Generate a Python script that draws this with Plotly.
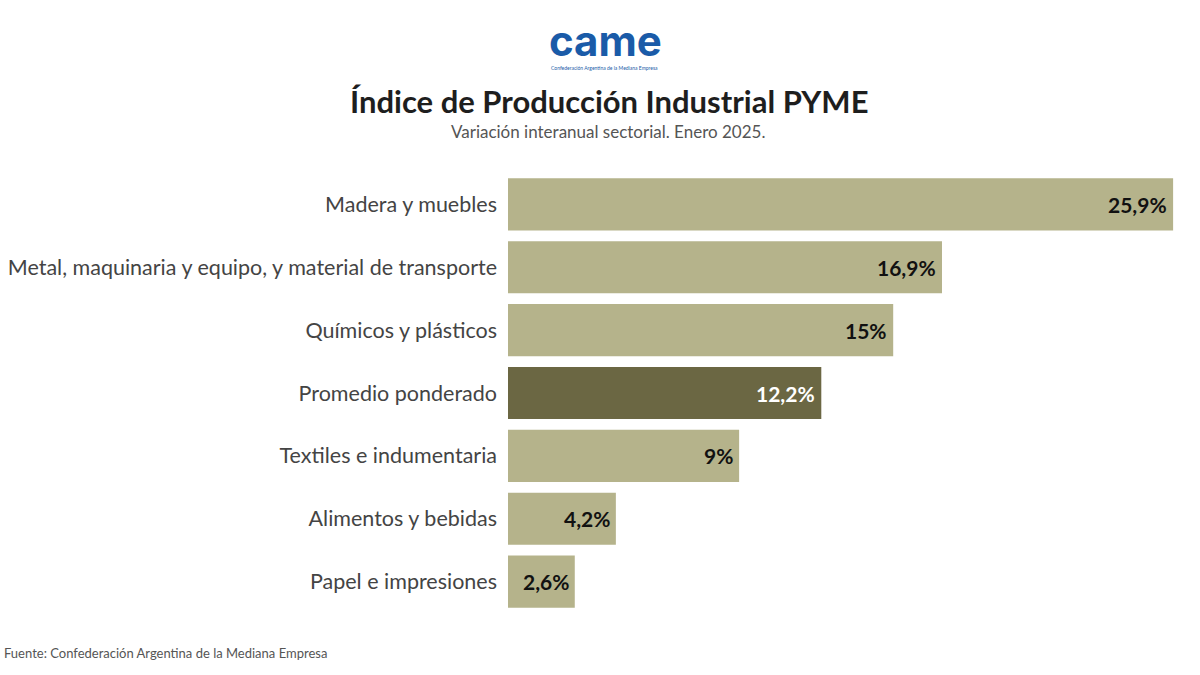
import plotly.graph_objects as go

categories = [
    "Madera y muebles",
    "Metal, maquinaria y equipo, y material de transporte",
    "Químicos y plásticos",
    "Promedio ponderado",
    "Textiles e indumentaria",
    "Alimentos y bebidas",
    "Papel e impresiones",
]
values = [25.9, 16.9, 15.0, 12.2, 9.0, 4.2, 2.6]
highlight = "Promedio ponderado"

LIGHT = "#b5b38b"
DARK = "#6b6743"
FONT = "Lato"

labels = [f"{v:g}".replace(".", ",") + "%" for v in values]
colors = [DARK if c == highlight else LIGHT for c in categories]
label_colors = ["white" if c == highlight else "#111111" for c in categories]

fig = go.Figure()
fig.add_trace(go.Bar(
    x=values, y=categories, orientation="h",
    marker=dict(color=colors, line=dict(width=0)),
    hoverinfo="skip",
))

for c, v, t, lc in zip(categories, values, labels, label_colors):
    fig.add_annotation(x=v, y=c, xref="x", yref="y", text=f"<b>{t}</b>",
                       showarrow=False, xanchor="right", xshift=-4,
                       font=dict(family=FONT, size=21, color=lc))

W, H = 1200, 675
L = 508
fig.update_layout(
    width=W, height=H,
    margin=dict(l=L, r=0, t=173, b=62),
    paper_bgcolor="white", plot_bgcolor="white",
    bargap=0.17, showlegend=False,
    xaxis=dict(range=[0, (W - L) / 25.68], visible=False, fixedrange=True),
    yaxis=dict(categoryorder="array", categoryarray=categories, autorange="reversed",
               showgrid=False, zeroline=False, showline=False, ticks="",
               automargin=False, ticklabelstandoff=10,
               tickfont=dict(family=FONT, size=21.5, color="#444444")),
    font=dict(family=FONT),
)

# logo (approximation)
fig.add_annotation(xref="paper", yref="paper", x=(605 - L) / (W - L), y=1,
                   yshift=173 - 40, yanchor="middle", xanchor="center",
                   text="<b>came</b>", showarrow=False,
                   font=dict(family="Inter", size=42, color="#1a5ba8"))
fig.add_annotation(xref="paper", yref="paper", x=(604 - L) / (W - L), y=1,
                   yshift=173 - 68, yanchor="middle", xanchor="center",
                   text="Confederación Argentina de la Mediana Empresa", showarrow=False,
                   font=dict(family=FONT, size=5, color="#1a5ba8"))
# title & subtitle
fig.add_annotation(xref="paper", yref="paper", x=(609 - L) / (W - L), y=1,
                   yshift=173 - 101, yanchor="middle", xanchor="center",
                   text="<b>Índice de Producción Industrial PYME</b>", showarrow=False,
                   font=dict(family=FONT, size=31, color="#1e1e1e"))
fig.add_annotation(xref="paper", yref="paper", x=(608 - L) / (W - L), y=1,
                   yshift=173 - 131, yanchor="middle", xanchor="center",
                   text="Variación interanual sectorial. Enero 2025.", showarrow=False,
                   font=dict(family=FONT, size=17, color="#555555"))
# source
fig.add_annotation(xref="paper", yref="paper", x=-(L - 2) / (W - L), y=0,
                   yshift=-(653 - (H - 62)), yanchor="middle", xanchor="left",
                   text="Fuente: Confederación Argentina de la Mediana Empresa", showarrow=False,
                   font=dict(family=FONT, size=13, color="#555555"))

fig.write_html("out.html")
